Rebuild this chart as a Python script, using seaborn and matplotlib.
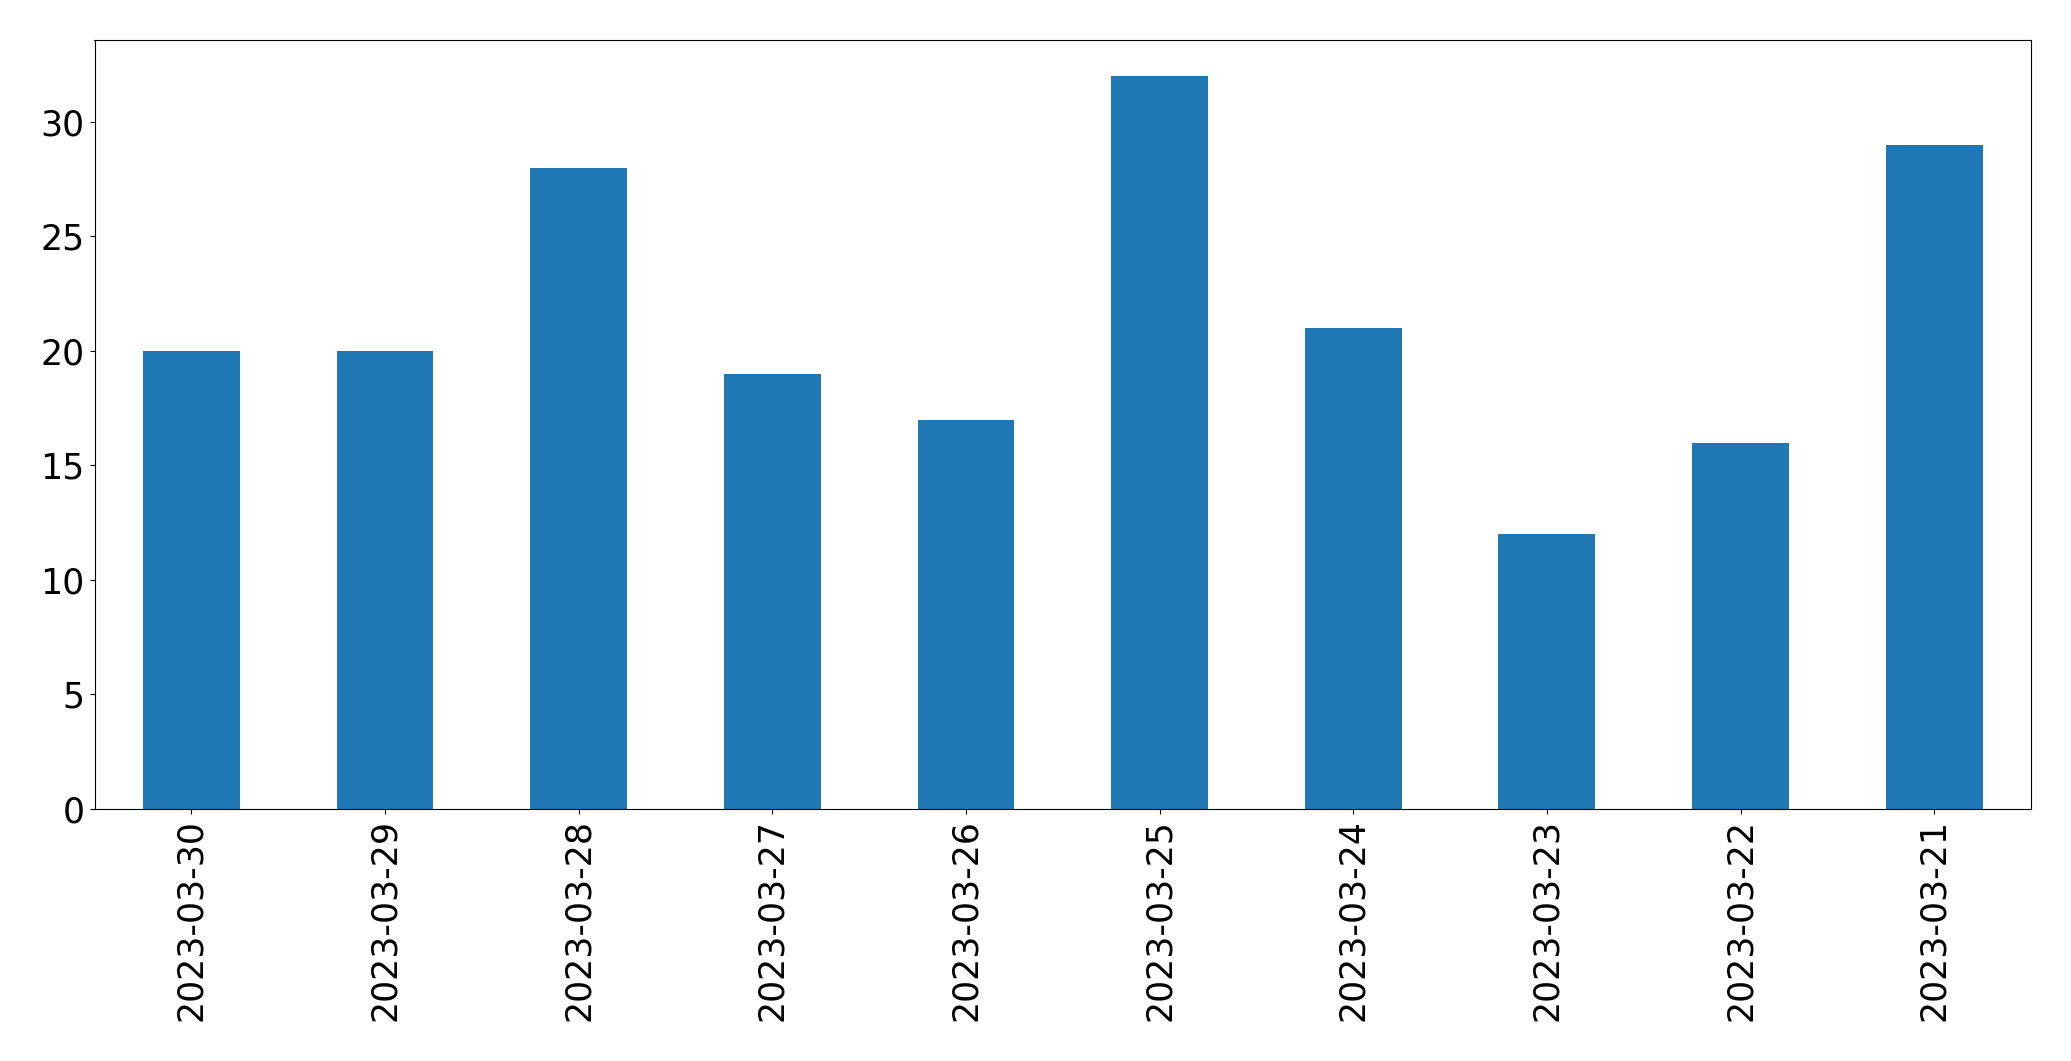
import matplotlib.pyplot as plt
import pandas as pd
import seaborn as sns

DATES = [
    "2023-03-30", "2023-03-29", "2023-03-28", "2023-03-27", "2023-03-26",
    "2023-03-25", "2023-03-24", "2023-03-23", "2023-03-22", "2023-03-21",
]
COUNTS = [20, 20, 28, 19, 17, 32, 21, 12, 16, 29]

W, H, DPI = 2071, 1061, 100

sns.set_style("ticks", rc={
    "axes.edgecolor": "black",
    "text.color": "black",
    "xtick.color": "black",
    "ytick.color": "black",
    "axes.labelcolor": "black",
})
plt.rcParams["font.family"] = ["DejaVu Sans"]

df = pd.DataFrame({"date": DATES, "count": COUNTS})

fig, ax = plt.subplots(figsize=(W / DPI, H / DPI), dpi=DPI)
fig.subplots_adjust(left=94.5 / W, right=2031 / W, top=1 - 39.5 / H, bottom=1 - 809 / H)

sns.barplot(data=df, x="date", y="count", color="#1f77b4", saturation=1,
            width=0.5, ax=ax, order=DATES, linewidth=0, edgecolor="none")

ax.set_xlim(-0.5, len(DATES) - 0.5)
ax.set_ylim(0, max(COUNTS) * 1.05)
ax.set_xlabel("")
ax.set_ylabel("")
ax.tick_params(axis="both", labelsize=25, length=3.5, width=0.8, color="black",
               labelcolor="black")
ax.tick_params(axis="x", rotation=90)
for s in ax.spines.values():
    s.set_color("black")
    s.set_linewidth(0.8)

fig.savefig("out.png", dpi=DPI, facecolor="white")
